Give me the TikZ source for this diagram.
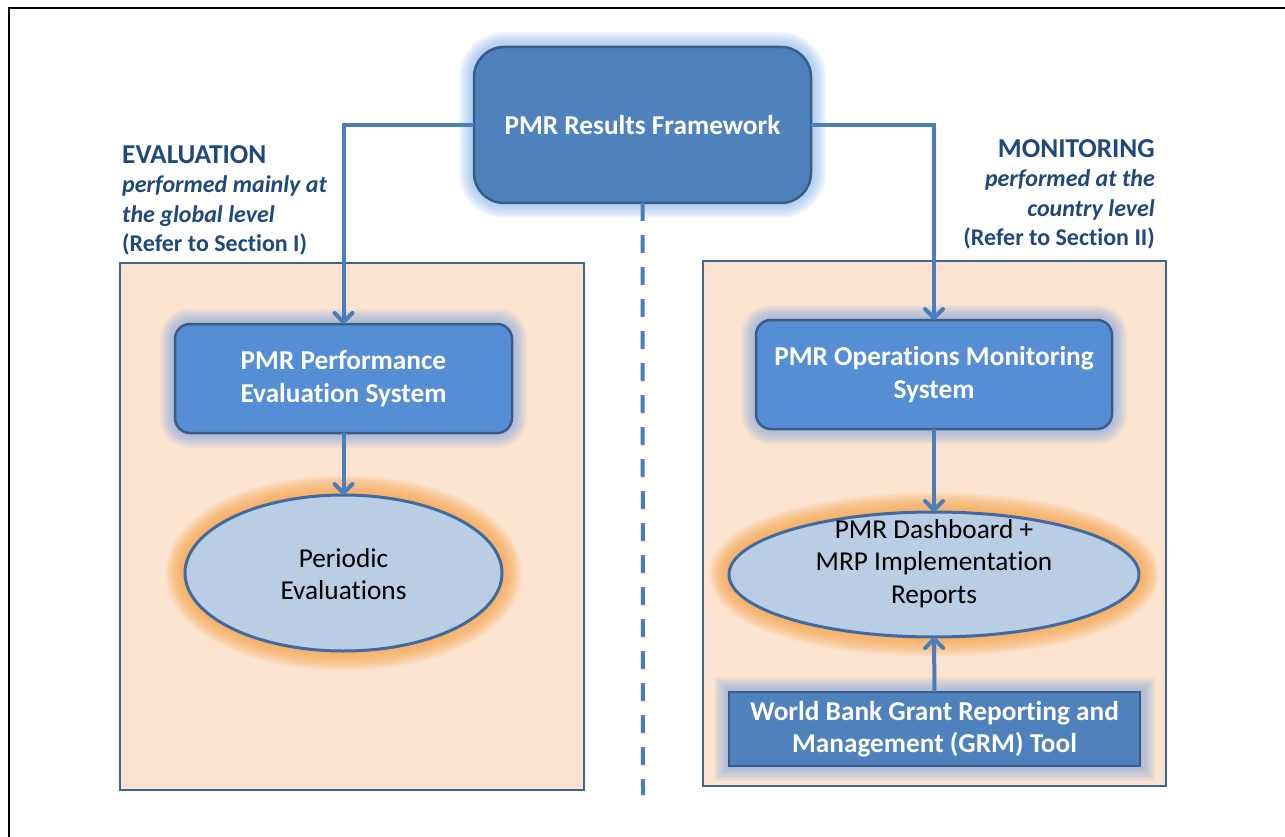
\documentclass[tikz,border=0pt]{standalone}
\usepackage{fontspec}
\setmainfont{Carlito}[RawFeature=-liga]
\usetikzlibrary{arrows.meta,shapes.geometric}
\pgfdeclarelayer{bg}
\pgfdeclarelayer{glow}
\pgfsetlayers{bg,glow,main}
\definecolor{boxblue}{HTML}{4F81BD}
\definecolor{midblue}{HTML}{558ED5}
\definecolor{edgeblue}{HTML}{385D8A}
\definecolor{panefill}{HTML}{FDE4D1}
\definecolor{paneedge}{HTML}{3F6592}
\definecolor{ellfill}{HTML}{B9CDE5}
\definecolor{elledge}{HTML}{3F6BA0}
\definecolor{labelblue}{HTML}{1F497D}
\definecolor{arrowblue}{HTML}{4A7EBB}
\definecolor{glowblue}{HTML}{8DB8EC}
\definecolor{glowgrey}{HTML}{7FA6E0}
\definecolor{gloworange}{HTML}{F7A447}
\tikzset{
  bluebox/.style={draw=edgeblue, line width=2.5pt, fill=boxblue, text=white, font=\fontsize{27.3}{32.5}\selectfont\bfseries, align=center, inner sep=0pt, outer sep=0pt},
  midbox/.style={bluebox, fill=midblue, rounded corners=15pt, minimum height=109pt},
  ellnode/.style={ellipse, draw=elledge, line width=3pt, fill=ellfill, inner sep=0pt, outer sep=0pt},
  etext/.style={font=\fontsize{27.3}{32.5}\selectfont, align=center, text=black, inner sep=0pt},
  pane/.style={draw=paneedge, line width=2.5pt, fill=panefill},
  conn/.style={draw=arrowblue, line width=4pt, -{Straight Barb[length=9pt,width=18pt,round]}},
  sidelabel/.style={text=labelblue, font=\fontsize{24}{29.5}\selectfont\bfseries, inner sep=0pt},
}
\newcommand{\headfont}{\fontsize{27.3}{29.5}\selectfont}
\begin{document}
\begin{tikzpicture}[x=1pt,y=-1pt]
\useasboundingbox (0,0) rectangle (1285,837);

% background and panes
\begin{pgfonlayer}{bg}
\fill[white] (0,0) rectangle (1285,837);
\draw[line width=2.5pt, black] (9,837) -- (9,8) -- (1285,8);
\draw[pane] (120,263) rectangle (584,790);
\draw[pane] (703,261) rectangle (1166,786);
\end{pgfonlayer}

% nodes
\node[bluebox, rounded corners=30pt, minimum width=337pt, minimum height=156pt] (top) at (642.5,125) {PMR Results Framework};
\node[midbox, minimum width=337pt] (lbox) at (343.5,378.5) {PMR Performance\\Evaluation System};
\node[midbox, minimum width=356pt] (rbox) at (934,374.5) {PMR Operations Monitoring\\System};
\node[ellnode, minimum width=317pt, minimum height=156pt] (e1) at (343.5,573) {};
\node[etext] (e1t) at (343.5,574) {Periodic\\Evaluations};
\node[ellnode, minimum width=410pt, minimum height=125pt] (e2) at (934,574.5) {};
\node[etext] (e2t) at (934,563.5) {PMR Dashboard +\\MRP Implementation\\Reports};
\node[bluebox, minimum width=411pt, minimum height=74pt] (grm) at (934.5,729) {World Bank Grant Reporting and\\Management (GRM) Tool};

% glows
\begin{pgfonlayer}{glow}
\foreach \w in {3,6,...,30} {
  \draw[draw=glowblue, line width=\w pt, draw opacity=0.1, rounded corners=30pt] (top.south west) rectangle (top.north east);
  \draw[draw=glowgrey, line width=\w pt, draw opacity=0.09, rounded corners=15pt] (lbox.south west) rectangle (lbox.north east);
  \draw[draw=glowgrey, line width=\w pt, draw opacity=0.09, rounded corners=15pt] (rbox.south west) rectangle (rbox.north east);
  \draw[draw=glowgrey, line width=\w pt, draw opacity=0.09] (grm.south west) rectangle (grm.north east);
}
\foreach \w in {3,6,...,39} {
  \draw[draw=gloworange, line width=\w pt, draw opacity=0.1] (e1.center) ellipse [x radius=158.5, y radius=78];
  \draw[draw=gloworange, line width=\w pt, draw opacity=0.1] (e2.center) ellipse [x radius=205, y radius=62.5];
}
\end{pgfonlayer}

% side labels
\node[sidelabel, anchor=north west, align=left] (evl) at (122,145) {{\headfont EVALUATION}\\\textit{performed mainly at}\\\textit{the global level}\\(Refer to Section I)};
\node[sidelabel, anchor=north east, align=right] (mon) at (1155,139) {{\headfont MONITORING}\\\textit{performed at the}\\\textit{country level}\\(Refer to Section II)};

% connectors
\draw[conn] (top.west) -| (lbox.north);
\draw[conn] (top.east) -| (rbox.north);
\draw[conn] (lbox.south) -- (e1.north);
\draw[conn] (rbox.south) -- (e2.north);
\draw[conn] (grm.north) -- (e2.south);
\coordinate (dashend) at (643,795);
\draw[draw=arrowblue, line width=4pt, dash pattern=on 18pt off 14pt] (top.south) -- (dashend);
\end{tikzpicture}
\end{document}
